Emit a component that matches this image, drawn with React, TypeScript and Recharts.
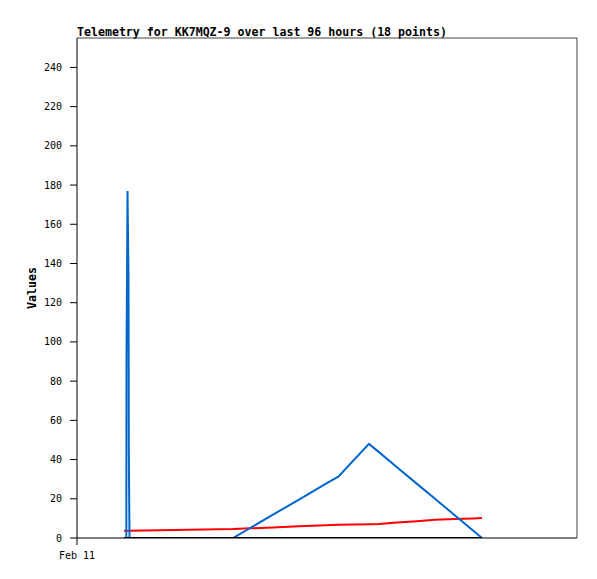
import React from "react";
import {
  LineChart,
  Line,
  XAxis,
  YAxis,
  ReferenceLine,
} from "recharts";

// hours since Feb 11 00:00
const hours = [
  9.02, 9.47, 9.5, 9.7, 9.89, 9.95, 10.08, 29.95, 37.63, 42.62, 47.81, 50.17,
  56.06, 57.98, 61.44, 65.28, 68.74, 72.58, 76.03, 77.76,
];
const blueValues = [
  0, 0, 88, 177, 132, 44, 0, 0, 11.9, 19.6, 27.7, 31.3, 48, 43.8, 36.1, 27.6,
  20.0, 11.5, 3.8, 0,
];
const redValues = [
  3.7, 3.7, 3.7, 3.7, 3.7, 3.7, 3.7, 4.6, 5.4, 6.0, 6.5, 6.7, 7.0, 7.2, 7.9,
  8.6, 9.3, 9.7, 10.0, 10.2,
];
const blackValues = [
  0, 0, 0, 0, 0, 0, 0, 0, 0, 0, 0, 0, 0, 0, 0, 0, 0, 0, 0, 0,
];
const yTicks = [0, 20, 40, 60, 80, 100, 120, 140, 160, 180, 200, 220, 240];
const xTicks = [0];
const xTickLabels = ["Feb 11"];

const data = hours.map((h, i) => ({
  t: h,
  blue: blueValues[i],
  red: redValues[i],
  black: blackValues[i],
}));

const mono = "'DejaVu Sans Mono', monospace";

export default function App() {
  return (
    <div
      style={{
        position: "absolute",
        left: 0,
        top: 0,
        width: 597,
        height: 579,
        background: "#fff",
      }}
    >
      <div
        style={{
          position: "absolute",
          left: 77,
          top: 25,
          fontFamily: mono,
          fontWeight: "bold",
          fontSize: 11.6,
          lineHeight: "14px",
          whiteSpace: "nowrap",
        }}
      >
        Telemetry for KK7MQZ-9 over last 96 hours (18 points)
      </div>
      <div
        style={{
          position: "absolute",
          left: 32,
          top: 288,
          transform: "translate(-50%, -50%) rotate(-90deg)",
          fontFamily: mono,
          fontWeight: "bold",
          fontSize: 11.6,
          whiteSpace: "nowrap",
        }}
      >
        Values
      </div>
      <LineChart
        width={597}
        height={579}
        data={data}
        margin={{ top: 38, right: 20, bottom: 11, left: 0 }}
      >
        <XAxis
          dataKey="t"
          type="number"
          domain={[0, 96]}
          ticks={xTicks}
          tickFormatter={(_v: number, i: number) => xTickLabels[i] ?? ""}
          height={30}
          tickSize={7}
          tickMargin={7}
          stroke="#000"
          tick={{ fill: "#000", fontFamily: mono, fontSize: 10 }}
          allowDataOverflow
        />
        <YAxis
          type="number"
          domain={[0, 255]}
          ticks={yTicks}
          width={77}
          tickSize={7}
          tickMargin={8}
          stroke="#000"
          tick={{ fill: "#000", fontFamily: mono, fontSize: 10 }}
          allowDataOverflow
        />
        <ReferenceLine y={255} stroke="#404040" strokeWidth={1} />
        <ReferenceLine x={96} stroke="#404040" strokeWidth={1} />
        <Line
          dataKey="red"
          stroke="#ff0000"
          strokeWidth={2}
          dot={false}
          type="linear"
          isAnimationActive={false}
        />
        <Line
          dataKey="blue"
          stroke="#0066cc"
          strokeWidth={2}
          dot={false}
          type="linear"
          isAnimationActive={false}
        />
        <Line
          dataKey="black"
          stroke="#000000"
          strokeWidth={2}
          dot={false}
          type="linear"
          isAnimationActive={false}
        />
      </LineChart>
    </div>
  );
}
